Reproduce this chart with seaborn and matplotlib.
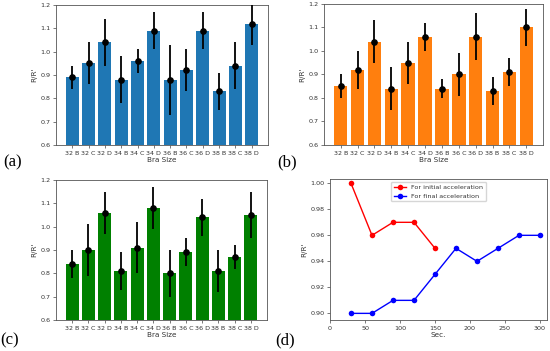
import matplotlib
matplotlib.use("Agg")
import matplotlib.pyplot as plt
import seaborn as sns
import numpy as np
import pandas as pd

sizes = ["32 B", "32 C", "32 D", "34 B", "34 C", "34 D",
         "36 B", "36 C", "36 D", "38 B", "38 C", "38 D"]

a_vals = [0.89, 0.95, 1.04, 0.88, 0.96, 1.09, 0.88, 0.92, 1.09, 0.83, 0.94, 1.12]
a_low = [0.84, 0.86, 0.94, 0.78, 0.91, 1.01, 0.73, 0.83, 1.01, 0.75, 0.84, 1.03]
a_high = [0.94, 1.04, 1.14, 0.98, 1.01, 1.17, 1.03, 1.01, 1.17, 0.91, 1.04, 1.21]

b_vals = [0.85, 0.92, 1.04, 0.84, 0.95, 1.06, 0.84, 0.90, 1.06, 0.83, 0.91, 1.10]
b_low = [0.80, 0.84, 0.95, 0.75, 0.86, 1.00, 0.80, 0.81, 0.96, 0.77, 0.85, 1.02]
b_high = [0.90, 1.00, 1.13, 0.93, 1.04, 1.12, 0.88, 0.99, 1.16, 0.89, 0.97, 1.18]

c_vals = [0.84, 0.90, 1.06, 0.81, 0.91, 1.08, 0.80, 0.89, 1.04, 0.81, 0.87, 1.05]
c_low = [0.78, 0.79, 0.97, 0.73, 0.80, 0.99, 0.70, 0.83, 0.96, 0.72, 0.82, 0.95]
c_high = [0.90, 1.01, 1.15, 0.89, 1.02, 1.17, 0.90, 0.95, 1.12, 0.90, 0.92, 1.15]

init_sec = [30, 60, 90, 120, 150]
init_vals = [1.00, 0.96, 0.97, 0.97, 0.95]
final_sec = [30, 60, 90, 120, 150, 180, 210, 240, 270, 300]
final_vals = [0.90, 0.90, 0.91, 0.91, 0.93, 0.95, 0.94, 0.95, 0.96, 0.96]

W, H = 550, 351
fig = plt.figure(figsize=(W / 100, H / 100), dpi=100)


def px_axes(l, t, r, b):
    return fig.add_axes([l / W, 1 - b / H, (r - l) / W, (b - t) / H])


TICK_FS = 4.6
LABEL_FS = 5.2
TXT = "#333333"


def style_axes(ax):
    ax.tick_params(labelsize=TICK_FS, length=2.5, width=0.5, pad=1.5,
                   colors="#444444", labelcolor=TXT)
    for s in ax.spines.values():
        s.set_linewidth(0.6)
        s.set_color("#555555")


def bar_panel(ax, vals, low, high, color):
    df = pd.DataFrame({"size": sizes, "val": vals})
    sns.barplot(data=df, x="size", y="val", color=color, saturation=1,
                errorbar=None, width=0.8, linewidth=0, ax=ax)
    x = np.arange(len(sizes))
    v = np.array(vals)
    yerr = [v - np.array(low), np.array(high) - v]
    ax.errorbar(x, v, yerr=yerr, fmt="o", color="black", ms=3.8,
                elinewidth=1.3, capsize=0, zorder=5)
    n = len(sizes)
    ax.set_xlim(-0.4 - 0.59, n - 1 + 0.4 + 0.59)
    ax.set_ylim(0.6, 1.2)
    ax.set_yticks([0.6, 0.7, 0.8, 0.9, 1.0, 1.1, 1.2])
    ax.set_xlabel("Bra Size", fontsize=LABEL_FS, labelpad=1, color=TXT)
    ax.set_ylabel("R/R'", fontsize=LABEL_FS, labelpad=2, color=TXT)
    style_axes(ax)


ax_a = px_axes(56, 5, 268, 145)
bar_panel(ax_a, a_vals, a_low, a_high, "#1f77b4")
ax_b = px_axes(324, 4, 543, 145)
bar_panel(ax_b, b_vals, b_low, b_high, "#ff7f0e")
ax_c = px_axes(56, 180, 267, 320)
bar_panel(ax_c, c_vals, c_low, c_high, "#008000")

ax_d = px_axes(330, 179, 547, 320)
df_i = pd.DataFrame({"sec": init_sec, "val": init_vals})
df_f = pd.DataFrame({"sec": final_sec, "val": final_vals})
sns.lineplot(data=df_i, x="sec", y="val", color="red", marker="o", ms=4,
             markeredgewidth=0, linewidth=1, label="For initial acceleration", ax=ax_d)
sns.lineplot(data=df_f, x="sec", y="val", color="blue", marker="o", ms=4,
             markeredgewidth=0, linewidth=1, label="For final acceleration", ax=ax_d)
ax_d.set_xlim(0, 310)
ax_d.set_ylim(0.8949, 1.0033)
ax_d.set_xticks([0, 50, 100, 150, 200, 250, 300])
ax_d.set_yticks([0.90, 0.92, 0.94, 0.96, 0.98, 1.00])
ax_d.set_xlabel("Sec.", fontsize=LABEL_FS, labelpad=1, color=TXT)
ax_d.set_ylabel("R/R'", fontsize=LABEL_FS, labelpad=2, color=TXT)
style_axes(ax_d)
leg = ax_d.legend(loc="upper center", fontsize=TICK_FS, frameon=True,
                  borderpad=0.4, handlelength=2, framealpha=0.8,
                  bbox_to_anchor=(0.5, 1.0))
for t in leg.get_texts():
    t.set_color(TXT)

serif = ["Liberation Serif", "DejaVu Serif"]
fig.text(13 / W, 1 - 162 / H, "(a)", fontsize=12, family=serif, ha="center", va="center")
fig.text(287 / W, 1 - 162 / H, "(b)", fontsize=12, family=serif, ha="center", va="center")
fig.text(10 / W, 1 - 340 / H, "(c)", fontsize=12, family=serif, ha="center", va="center")
fig.text(285 / W, 1 - 340 / H, "(d)", fontsize=12, family=serif, ha="center", va="center")

fig.savefig("out.png", dpi=100)
